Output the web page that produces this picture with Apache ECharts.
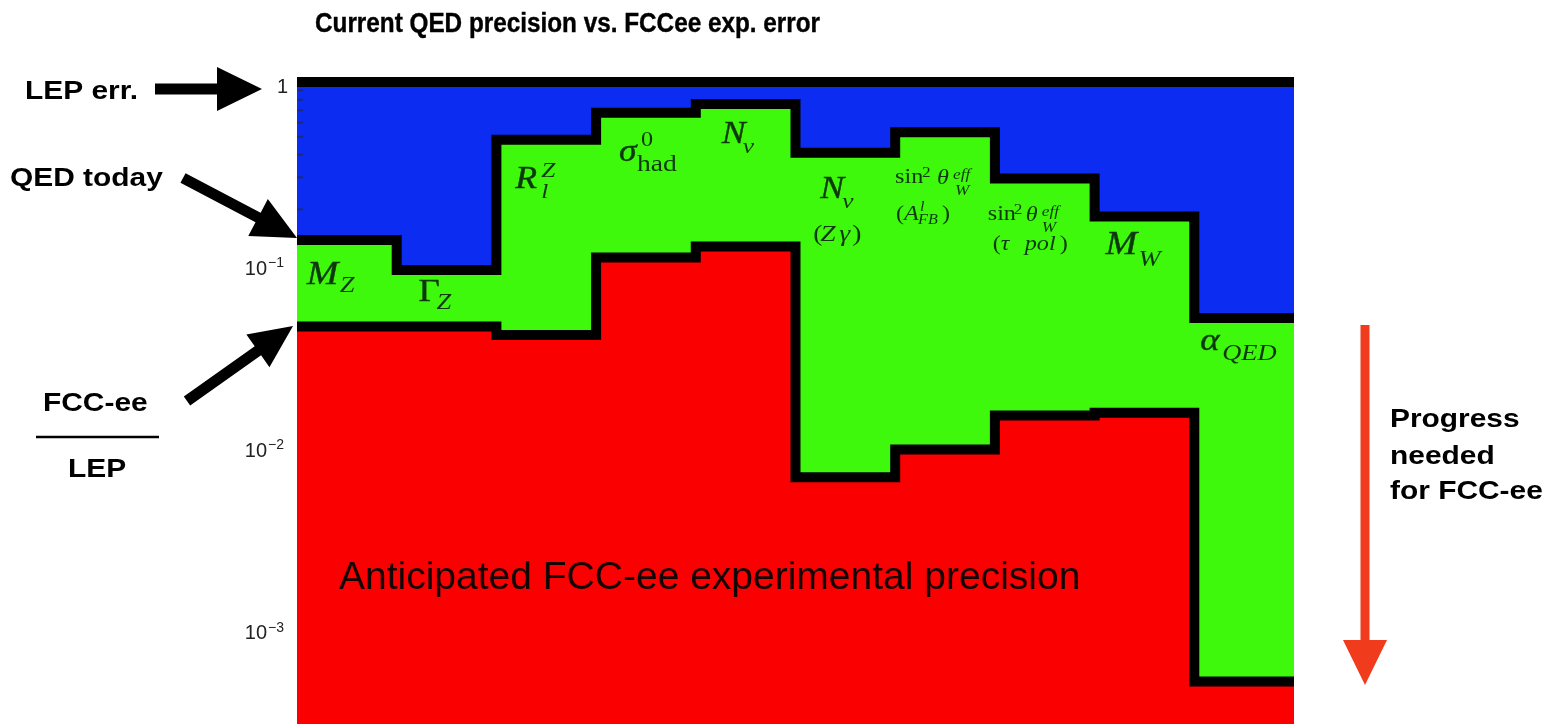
<!DOCTYPE html>
<html>
<head>
<meta charset="utf-8">
<script src="https://cdn.jsdelivr.net/npm/echarts@6/dist/echarts.min.js"></script>
<style>
  html, body { margin: 0; padding: 0; background: #ffffff; }
  #chart { width: 1549px; height: 724px; }
</style>
</head>
<body>
<div id="chart"></div>
<script>
// Observables, one bin each
const observables = ['M_Z', 'Γ_Z', 'R_l^Z', 'σ_had^0', 'N_ν', 'N_ν (Zγ)',
  'sin²θ_W^eff (A_FB^l)', 'sin²θ_W^eff (τ pol)', 'M_W', 'α_QED'];
// Errors normalised to the LEP experimental error
const lepError   = [1, 1, 1, 1, 1, 1, 1, 1, 1, 1];
const qedToday   = [0.136, 0.093, 0.482, 0.677, 0.758, 0.409, 0.530, 0.295, 0.183, 0.0507];
const fccOverLep = [0.0455, 0.0455, 0.0409, 0.109, 0.125, 0.00677, 0.00964, 0.0148, 0.0153, 0.000513];
// Decade tick values on the log axis, and their exponents for the labels
const yTicks = [1, 0.1, 0.01, 0.001];
const yTickExponents = [0, -1, -2, -3];
// Minor ticks of the top decade
const yMinorTicks = [0.2, 0.3, 0.4, 0.5, 0.6, 0.7, 0.8, 0.9];

const BLUE = '#0c2cf2', GREEN = '#3ef90c', RED = '#fa0000', ARROW_RED = '#f03c1c';
const SANS = '"Liberation Sans", Arial, sans-serif';
const SERIF = '"Liberation Serif", "Times New Roman", serif';
const MATH_INK = '#0c380c';
const TOP_Z = 100;

// histogram steps: one point per bin edge, the last bin repeated at the right edge
function toSteps(values) {
  const pts = values.map((v, i) => [i, v]);
  pts.push([values.length, values[values.length - 1]]);
  return pts;
}

function stepSeries(name, values, fill, z, clip) {
  return {
    type: 'line', name, data: toSteps(values), step: 'end',
    symbol: 'none', silent: true, clip, z,
    lineStyle: { color: '#000', width: 10, join: 'miter', cap: 'butt' },
    areaStyle: { color: fill, opacity: 1, origin: 'start' }
  };
}

const chart = echarts.init(document.getElementById('chart'), null, { renderer: 'canvas' });

chart.setOption({
  animation: false,
  backgroundColor: '#ffffff',
  grid: { left: 297, top: 82, width: 997, height: 645, containLabel: false },
  xAxis: { type: 'value', min: 0, max: observables.length, show: false },
  yAxis: {
    type: 'log', logBase: 10, min: 3e-4, max: 1,
    axisLine: { show: false }, axisTick: { show: false }, splitLine: { show: false },
    axisLabel: { show: false }
  },
  series: [
    stepSeries('LEP err.', lepError, BLUE, 2, false),
    stepSeries('QED today', qedToday, GREEN, 3, true),
    stepSeries('FCC-ee / LEP', fccOverLep, RED, 4, true)
  ]
});

// ---- bin labels, typeset from italic / roman serif pieces ----
// piece: [text, dx from bin centre, baseline dy below the value-1 line, font size, 'i' | 'r']
const binLabelPieces = [
  [['M', -40, 205, 33, 'i'], ['Z', -7, 212, 23, 'i']],
  [['Γ', -28, 221, 32, 'r'], ['Z', -10, 229, 23, 'i']],
  [['R', -31, 108, 31, 'i'], ['Z', -5, 97, 22, 'i'], ['l', -5, 118, 22, 'i']],
  [['σ', -27, 81, 31, 'i'], ['had', -9, 91, 24, 'r'], ['0', -5, 66, 21, 'r']],
  [['N', -24, 63, 31, 'i'], ['ν', -3, 73, 22, 'i']],
  [['N', -25, 118, 31, 'i'], ['ν', -3, 128, 22, 'i'],
   ['(', -32, 161, 24, 'r'], ['Z', -25, 161, 24, 'i'], ['γ', -6, 161, 24, 'i'], [')', 7, 161, 24, 'r']],
  [['sin', -50, 103, 21, 'r'], ['2', -23, 96, 15, 'r'], ['θ', -8, 104, 21, 'i'],
   ['eff', 8, 98, 15, 'i'], ['W', 10, 114, 15, 'i'],
   ['(', -49, 140, 21, 'r'], ['A', -41, 140, 21, 'i'], ['l', -25, 130, 14, 'i'],
   ['FB', -27, 143, 14, 'i'], [')', -3, 140, 21, 'r']],
  [['sin', -57, 140, 21, 'r'], ['2', -31, 133, 15, 'r'], ['θ', -19, 141, 21, 'i'],
   ['eff', -3, 135, 15, 'i'], ['W', -3, 151, 15, 'i'],
   ['(', -52, 170, 21, 'r'], ['τ', -44, 170, 21, 'i'], ['pol', -20, 170, 21, 'i'], [')', 15, 170, 21, 'r']],
  [['M', -39, 175, 33, 'i'], ['W', -6, 186, 23, 'i']],
  [['α', -44, 270, 32, 'i'], ['QED', -22, 280, 23, 'i']]
];
const MATH_SX = 1.15;

function textEl(text, x, midY, font, fill, sx, align, strokeW) {
  const style = { text, font, fill, align: align || 'left', verticalAlign: 'middle',
                  textAlign: align || 'left', textVerticalAlign: 'middle' };
  if (strokeW) { style.stroke = fill; style.lineWidth = strokeW; }
  return { type: 'text', x, y: midY, scaleX: sx || 1, silent: true, z: TOP_Z, style };
}

function arrowPoints(x1, y1, x2, y2, shaft, headLen, headW) {
  const dx = x2 - x1, dy = y2 - y1, L = Math.hypot(dx, dy);
  const ux = dx / L, uy = dy / L, nx = -uy, ny = ux;
  const bx = x2 - ux * headLen, by = y2 - uy * headLen;
  return [
    [x1 + nx * shaft / 2, y1 + ny * shaft / 2],
    [bx + nx * shaft / 2, by + ny * shaft / 2],
    [bx + nx * headW / 2, by + ny * headW / 2],
    [x2, y2],
    [bx - nx * headW / 2, by - ny * headW / 2],
    [bx - nx * shaft / 2, by - ny * shaft / 2],
    [x1 - nx * shaft / 2, y1 - ny * shaft / 2]
  ];
}

function arrow(pts, color) {
  return { type: 'polygon', silent: true, z: TOP_Z, shape: { points: pts }, style: { fill: color } };
}

function buildGraphics() {
  const g = [];
  const toPx = (x, y) => chart.convertToPixel({ xAxisIndex: 0, yAxisIndex: 0 }, [x, y]);

  // log-axis decade labels: 1, 10^-1, 10^-2, 10^-3
  const [axisX] = toPx(0, 1);
  yTicks.forEach((t, k) => {
    const py = toPx(0, t)[1];
    const e = yTickExponents[k];
    if (e === 0) {
      g.push(textEl('1', axisX - 9, py + 5, '20px ' + SANS, '#222', 1, 'right'));
    } else {
      g.push(textEl('10', axisX - 30, py + 5, '20px ' + SANS, '#222', 1, 'right'));
      g.push(textEl('−' + (-e), axisX - 29, py - 1, '14px ' + SANS, '#222', 1, 'left'));
    }
  });

  // short minor ticks inside the frame for the top decade
  yMinorTicks.forEach(t => {
    const py = toPx(0, t)[1];
    g.push({ type: 'line', silent: true, z: TOP_Z,
             shape: { x1: axisX, y1: py, x2: axisX + 6, y2: py },
             style: { stroke: '#1b2a80', lineWidth: 2 } });
  });

  binLabelPieces.forEach((pieces, i) => {
    const [cx, cy] = toPx(i + 0.5, lepError[i]);
    g.push({
      type: 'group', x: cx, y: cy, scaleX: MATH_SX, silent: true, z: TOP_Z,
      children: pieces.map(([t, dx, base, size, st]) =>
        textEl(t, dx / MATH_SX, base - 0.34 * size,
               (st === 'i' ? 'italic ' : '') + size + 'px ' + SERIF, MATH_INK, 1, 'left',
               size >= 30 ? 0.4 : 0))
    });
  });

  // title
  g.push(textEl('Current QED precision vs. FCCee exp. error', 315, 25, 'bold 27px ' + SANS, '#000', 0.9, 'left', 0.4));

  // left-hand annotations
  const ann = 'bold 26px ' + SANS;
  g.push(textEl('LEP err.', 25, 92, ann, '#000', 1.15));
  g.push(textEl('QED today', 10, 179, ann, '#000', 1.15));
  g.push(textEl('FCC-ee', 43, 404, ann, '#000', 1.15));
  g.push(textEl('LEP', 68, 470, ann, '#000', 1.15));
  g.push({ type: 'line', silent: true, z: TOP_Z, shape: { x1: 36, y1: 437, x2: 159, y2: 437 },
           style: { stroke: '#000', lineWidth: 2.5 } });
  g.push(arrow(arrowPoints(155, 89, 262, 89, 11, 45, 44), '#000'));
  g.push(arrow(arrowPoints(183, 178, 297, 238, 11, 44, 42), '#000'));
  g.push(arrow(arrowPoints(187, 401, 293, 326, 11, 43, 40), '#000'));

  // right-hand annotation
  g.push(arrow(arrowPoints(1365, 325, 1365, 685, 9, 45, 44), ARROW_RED));
  g.push(textEl('Progress', 1390, 420, ann, '#000', 1.15));
  g.push(textEl('needed', 1390, 457, ann, '#000', 1.15));
  g.push(textEl('for FCC-ee', 1390, 492, ann, '#000', 1.15));

  // caption inside the red region
  g.push(textEl('Anticipated FCC-ee experimental precision', 339, 578, '39px ' + SANS, '#140404', 1));
  return g;
}

chart.setOption({ graphic: buildGraphics() });
</script>
</body>
</html>
